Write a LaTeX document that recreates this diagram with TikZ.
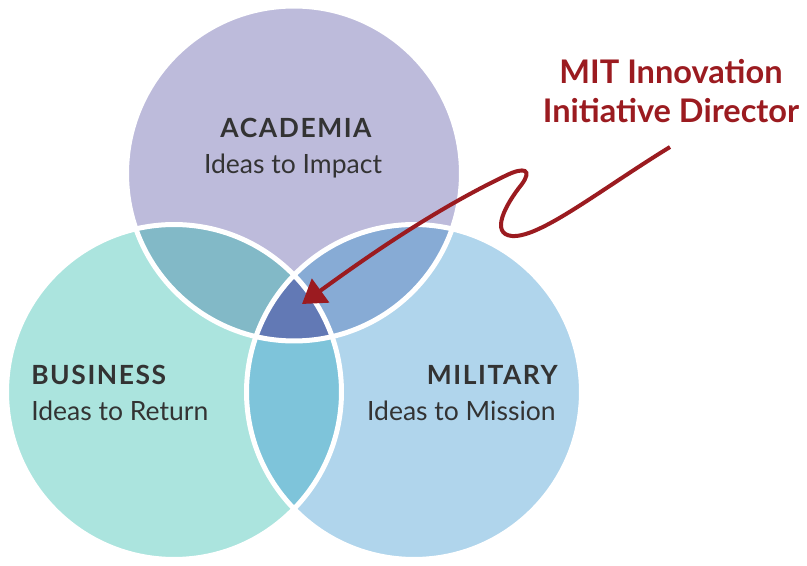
\documentclass[tikz,border=0pt]{standalone}
\usepackage{fontspec}
\setmainfont{Lato}
\usetikzlibrary{arrows.meta}
\definecolor{acad}{HTML}{BDBBDB}
\definecolor{busi}{HTML}{ABE4DE}
\definecolor{mili}{HTML}{B0D5EC}
\definecolor{acbu}{HTML}{82B9C7}
\definecolor{acmi}{HTML}{87ABD5}
\definecolor{bumi}{HTML}{7EC4DA}
\definecolor{allthree}{HTML}{6279B5}
\definecolor{mitred}{HTML}{9B1B20}
\definecolor{labgray}{HTML}{333333}
\newcommand{\tilig}[1]{{\addfontfeature{Ligatures=Rare}#1}}
\begin{document}
\begin{tikzpicture}[x=0.75pt,y=-0.75pt,
  headlab/.style={text=labgray,inner sep=0pt,font=\fontsize{19.8pt}{23pt}\selectfont\bfseries\addfontfeature{LetterSpace=6}},
  sublab/.style={text=labgray,inner sep=0pt,font=\fontsize{19.9pt}{23pt}\selectfont},
  titlelab/.style={text=mitred,inner sep=0pt,font=\fontsize{24.4pt}{29pt}\selectfont\bfseries},
  sep/.style={draw=white,line width=3.75pt},
  pointer/.style={draw=mitred,line width=3pt,-{Triangle[length=17.25pt,width=21.75pt]}}]
\useasboundingbox (0,0) rectangle (807,566);
\def\vennr{125.6pt}
\coordinate (A) at (294,173.5);
\coordinate (B) at (174,392);
\coordinate (M) at (414,392);
% base circles
\fill[acad] (A) circle[radius=\vennr];
\fill[busi] (B) circle[radius=\vennr];
\fill[mili] (M) circle[radius=\vennr];
% pairwise overlaps
\begin{scope}
  \clip (B) circle[radius=\vennr];
  \fill[bumi] (M) circle[radius=\vennr];
\end{scope}
\begin{scope}
  \clip (A) circle[radius=\vennr];
  \fill[acbu] (B) circle[radius=\vennr];
  \fill[acmi] (M) circle[radius=\vennr];
  \clip (B) circle[radius=\vennr];
  \fill[allthree] (M) circle[radius=\vennr];
\end{scope}
% white separators
\draw[sep] (A) circle[radius=\vennr];
\draw[sep] (B) circle[radius=\vennr];
\draw[sep] (M) circle[radius=\vennr];
% labels
\node[headlab,anchor=base] (acadh) at (296,138) {ACADEMIA};
\node[sublab,anchor=base] (acads) at (293,174) {Ideas to Impact};
\node[headlab,anchor=base west] (busih) at (31,385) {BUSINESS};
\node[sublab,anchor=base west] (busis) at (31,421) {Ideas to Return};
\node[headlab,anchor=base east] (milih) at (558,385) {MILITARY};
\node[sublab,anchor=base east] (milis) at (556,421) {Ideas to Mission};
\node[titlelab,anchor=base] (title1) at (671,84) {MIT \tilig{Innovation}};
\node[titlelab,anchor=base] (title2) at (671,123) {\tilig{Initiative} Director};
% pointer
\coordinate (s) at (670,147);
\coordinate (tip) at (302,304);
\draw[pointer] (s) .. controls (600,190) and (540,238) .. (512,236)
  .. controls (490,234) and (505,205) .. (522,184)
  .. controls (532,170) and (525,166) .. (505,176)
  .. controls (430,212) and (360,262) .. (tip);
\end{tikzpicture}
\end{document}
